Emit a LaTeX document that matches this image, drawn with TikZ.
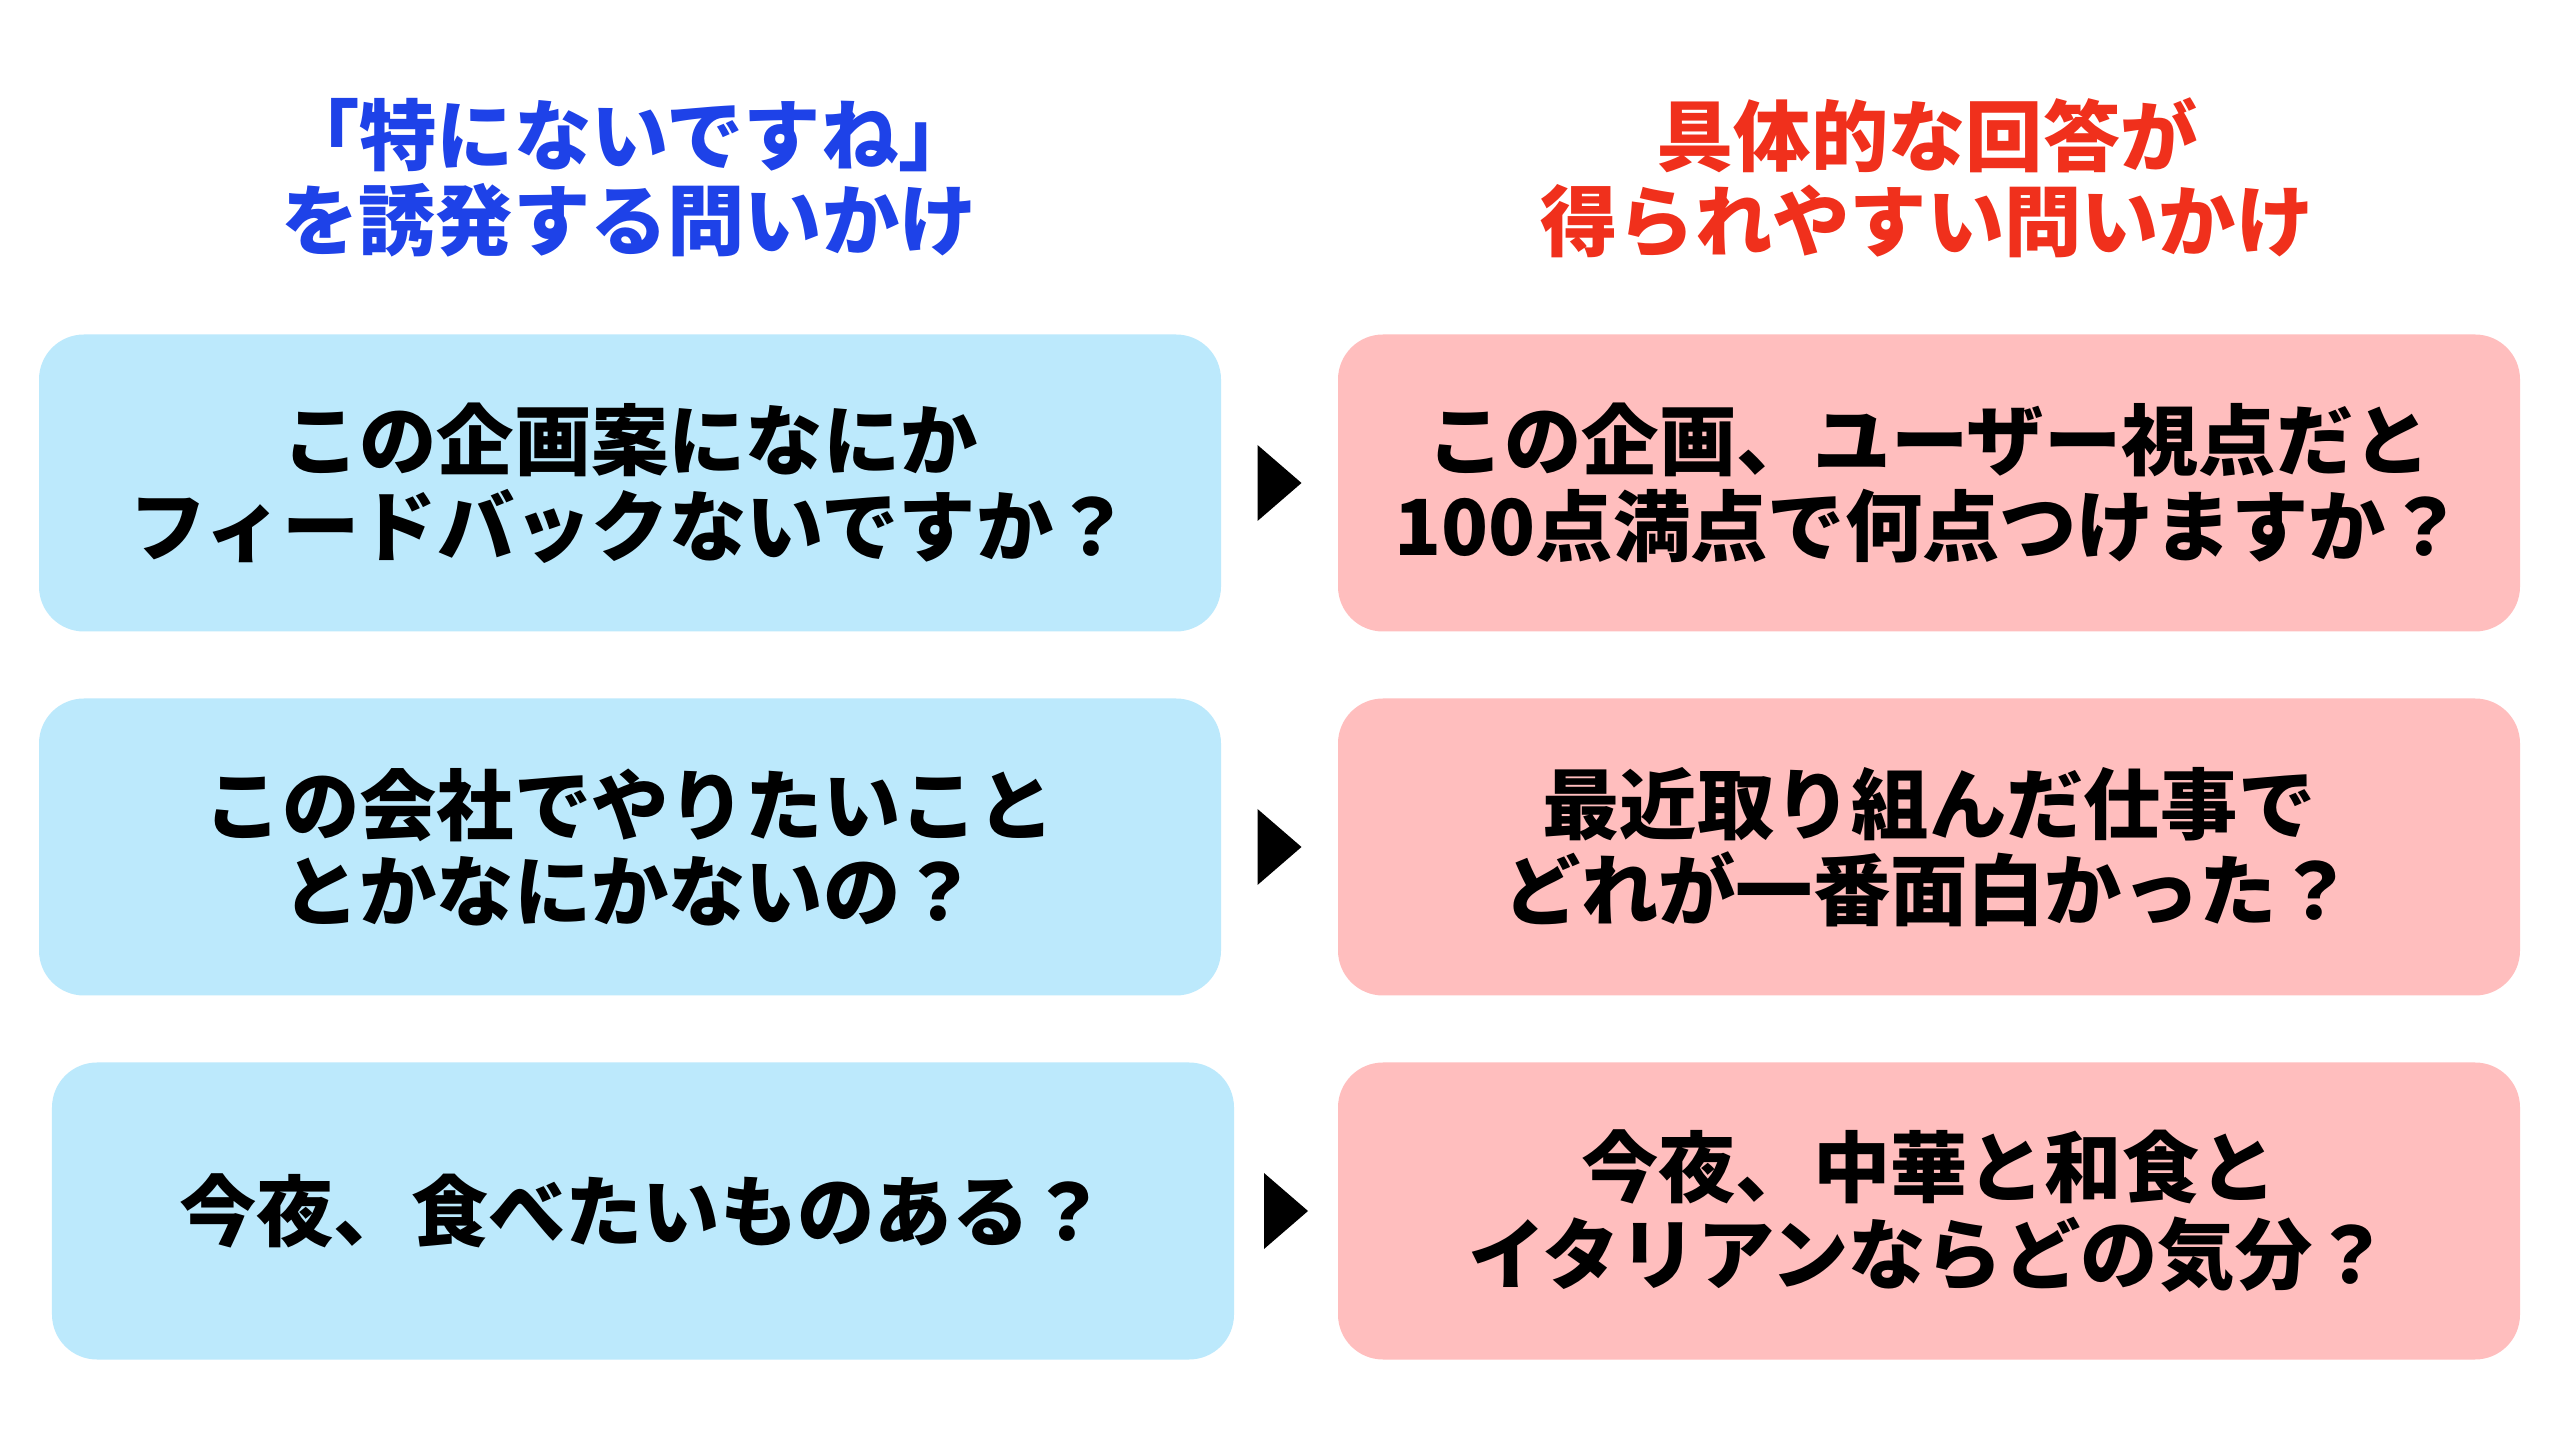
\documentclass[tikz,border=0pt]{standalone}
\usepackage{fontspec}
\usepackage{xcolor}
\usepackage{tikz}
\usetikzlibrary{calc}
\newfontfamily\jpfont{Noto Sans CJK JP}
\definecolor{askblue}{HTML}{BCE9FC}
\definecolor{askred}{HTML}{FFBEBE}
\definecolor{headblue}{HTML}{1E42E8}
\definecolor{headred}{HTML}{F0301C}
\tikzstyle{heading} = [align=center, inner sep=0pt, font=\jpfont\bfseries\fontsize{22}{24.2}\selectfont]
\tikzstyle{vague} = [rectangle, rounded corners=0.45cm, minimum width=11.82cm, minimum height=2.97cm, inner sep=0pt, align=center, fill=askblue, font=\jpfont\bfseries\fontsize{22}{24.6}\selectfont]
\tikzstyle{concrete} = [vague, fill=askred]
\tikzstyle{pointer} = [fill=black]

\begin{document}
\begin{tikzpicture}
    % page
    \fill[white] (0,0) rectangle (25.6,14.4);
    \useasboundingbox (0,0) rectangle (25.6,14.4);

    % headings
    \node[heading, text=headblue] (lefthead) at (6.29, 12.62) {「特にないですね」\\を誘発する問いかけ};
    \node[heading, text=headred] (righthead) at (19.27, 12.62) {具体的な回答が\\得られやすい問いかけ};

    % vague questions
    \node[vague] (q1) at (6.30, 9.57) {この企画案になにか\\フィードバックないですか？};
    \node[vague] (q2) at (6.30, 5.93) {この会社でやりたいこと\\とかなにかないの？};
    \node[vague] (q3) at (6.43, 2.29) {今夜、食べたいものある？};

    % concrete questions
    \node[concrete] (a1) at (19.29, 9.57) {この企画、ユーザー視点だと\\100点満点で何点つけますか？};
    \node[concrete] (a2) at (19.29, 5.93) {最近取り組んだ仕事で\\どれが一番面白かった？};
    \node[concrete] (a3) at (19.29, 2.29) {今夜、中華と和食と\\イタリアンならどの気分？};

    % pointers
    \foreach \i in {1,2,3} {
        \coordinate (t\i) at ($(q\i.east)!0.5!(a\i.west)$);
        \fill[pointer] (t\i) ++(-0.22,0.38) -- ++(0.44,-0.38) -- ++(-0.44,-0.38) -- cycle;
    }
\end{tikzpicture}
\end{document}
